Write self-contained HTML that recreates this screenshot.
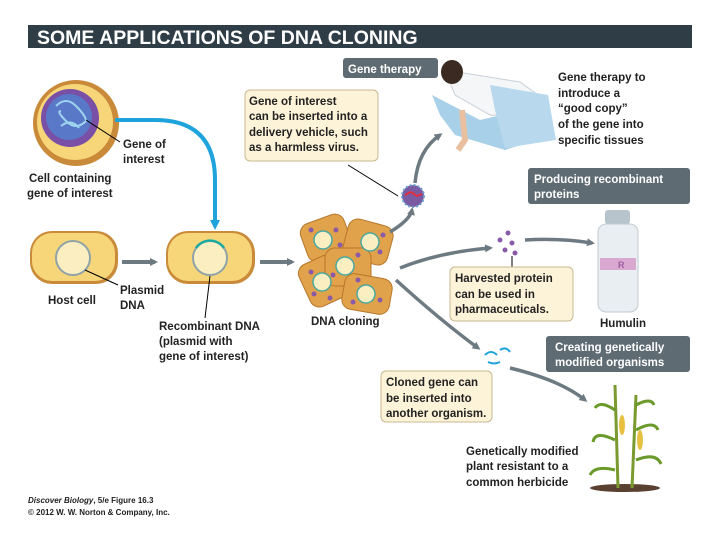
<!DOCTYPE html>
<html><head><meta charset="utf-8"><style>
body{margin:0;background:#fff;}
svg{display:block;font-family:"Liberation Sans",sans-serif;font-weight:bold;}
</style></head><body>
<svg width="720" height="540" viewBox="0 0 720 540">
<defs>
<marker id="ag" markerWidth="8" markerHeight="8" refX="5" refY="4" orient="auto" markerUnits="userSpaceOnUse"><path d="M0,0 L8,4 L0,8z" fill="#6e7a82"/></marker>
<marker id="ab" markerWidth="10" markerHeight="10" refX="5" refY="5" orient="auto" markerUnits="userSpaceOnUse"><path d="M0,0 L10,5 L0,10z" fill="#1ea3dc"/></marker>
</defs>
<rect x="28" y="25" width="664" height="23" fill="#2f3d47"/>
<text x="37" y="44" fill="#fff" font-size="19.5">SOME APPLICATIONS OF DNA CLONING</text>

<!-- top cell -->
<circle cx="76" cy="123" r="43" fill="#c98a3a"/>
<circle cx="75" cy="122" r="38" fill="#f7d679"/>
<circle cx="70" cy="118" r="29" fill="#7a4fa6"/>
<circle cx="69" cy="117" r="23" fill="#5a78c8"/>
<path d="M56,106 q10,-10 20,0 t10,15 q-10,10 -20,0 t-5,-10 M61,126 q10,-8 18,2" stroke="#9ed4f0" stroke-width="2" fill="none"/>
<line x1="86" y1="120" x2="120" y2="142" stroke="#000" stroke-width="1"/>
<text font-size="11.5" fill="#222"><tspan x="123" y="148">Gene of</tspan><tspan x="123" y="163">interest</tspan></text>
<text font-size="11.5" fill="#222"><tspan x="29" y="182">Cell containing</tspan><tspan x="27" y="197">gene of interest</tspan></text>
<path d="M115,120 L155,120 Q215,120 215,180 L215,225" stroke="#1ea3dc" stroke-width="4" fill="none" marker-end="url(#ab)"/>

<!-- host and recombinant cells -->
<rect x="30" y="231" width="88" height="53" rx="22" fill="#c98a3a"/>
<rect x="32" y="233" width="83" height="48" rx="20" fill="#f7d679"/>
<circle cx="73" cy="258" r="17" fill="#fbeec0" stroke="#8fa3a8" stroke-width="2"/>
<rect x="166" y="231" width="89" height="53" rx="22" fill="#c98a3a"/>
<rect x="168" y="233" width="84" height="48" rx="20" fill="#f7d679"/>
<circle cx="210" cy="258" r="17" fill="#fbeec0" stroke="#8fa3a8" stroke-width="2"/>
<path d="M196,248 A17,17 0 0 1 224,248" stroke="#1aa9a0" stroke-width="2.5" fill="none"/>
<line x1="122" y1="262" x2="155" y2="262" stroke="#6e7a82" stroke-width="4" marker-end="url(#ag)"/>
<line x1="260" y1="262" x2="292" y2="262" stroke="#6e7a82" stroke-width="4" marker-end="url(#ag)"/>
<line x1="85" y1="270" x2="118" y2="285" stroke="#000"/>
<text font-size="11.5" fill="#222"><tspan x="120" y="294">Plasmid</tspan><tspan x="120" y="309">DNA</tspan></text>
<text x="48" y="304" font-size="11.5" fill="#222">Host cell</text>
<line x1="210" y1="276" x2="205" y2="318" stroke="#000"/>
<text font-size="11.5" fill="#222"><tspan x="159" y="330">Recombinant DNA</tspan><tspan x="159" y="345">(plasmid with</tspan><tspan x="159" y="360">gene of interest)</tspan></text>

<!-- cluster -->
<g>
<rect x="303" y="218" width="46" height="40" rx="10" fill="#e0a24a" stroke="#b8762c" transform="rotate(-20 326 238)"/>
<rect x="345" y="222" width="46" height="40" rx="10" fill="#e0a24a" stroke="#b8762c" transform="rotate(15 368 242)"/>
<rect x="303" y="258" width="40" height="46" rx="10" fill="#e0a24a" stroke="#b8762c" transform="rotate(-25 323 281)"/>
<rect x="325" y="248" width="46" height="38" rx="10" fill="#e0a24a" stroke="#b8762c"/>
<rect x="343" y="276" width="48" height="36" rx="10" fill="#e0a24a" stroke="#b8762c" transform="rotate(10 367 294)"/>
<circle cx="323" cy="240" r="9" fill="#fbeec0" stroke="#4aa8a0" stroke-width="1.5"/>
<circle cx="370" cy="242" r="9" fill="#fbeec0" stroke="#4aa8a0" stroke-width="1.5"/>
<circle cx="345" cy="266" r="9" fill="#fbeec0" stroke="#4aa8a0" stroke-width="1.5"/>
<circle cx="322" cy="282" r="9" fill="#fbeec0" stroke="#4aa8a0" stroke-width="1.5"/>
<circle cx="366" cy="294" r="9" fill="#fbeec0" stroke="#4aa8a0" stroke-width="1.5"/>
<g fill="#8a5aa8"><circle cx="311" cy="230" r="2.5"/><circle cx="336" cy="230" r="2.5"/><circle cx="340" cy="245" r="2.5"/><circle cx="383" cy="235" r="2.5"/><circle cx="380" cy="252" r="2.5"/><circle cx="358" cy="255" r="2.5"/><circle cx="333" cy="275" r="2.5"/><circle cx="311" cy="272" r="2.5"/><circle cx="314" cy="294" r="2.5"/><circle cx="330" cy="298" r="2.5"/><circle cx="353" cy="302" r="2.5"/><circle cx="380" cy="300" r="2.5"/><circle cx="358" cy="280" r="2.5"/></g>
</g>
<text x="311" y="325" font-size="11.5" fill="#222">DNA cloning</text>

<!-- gene therapy -->
<rect x="343" y="58" width="95" height="20" rx="3" fill="#5f6b73"/>
<text x="348" y="73" font-size="11.5" fill="#fff">Gene therapy</text>
<rect x="245" y="90" width="133" height="71" rx="5" fill="#fdf3d8" stroke="#c8b890"/>
<text font-size="11.5" fill="#222"><tspan x="249" y="105">Gene of interest</tspan><tspan x="249" y="120">can be inserted into a</tspan><tspan x="249" y="136">delivery vehicle, such</tspan><tspan x="249" y="151">as a harmless virus.</tspan></text>
<line x1="348" y1="165" x2="398" y2="196" stroke="#000"/>
<circle cx="413" cy="196" r="11" fill="#7a5aa0" stroke="#6aa0d0" stroke-width="2" stroke-dasharray="2 2"/>
<path d="M405,195 l6,-3 l6,4 l5,-2" stroke="#e03040" stroke-width="2" fill="none"/>
<path d="M390,232 Q410,220 412,210" stroke="#6e7a82" stroke-width="3.5" fill="none" marker-end="url(#ag)"/>
<path d="M415,183 Q418,150 440,135" stroke="#6e7a82" stroke-width="3.5" fill="none" marker-end="url(#ag)"/>
<!-- patient -->
<path d="M432,95 L480,120 L545,105 L552,135 L505,150 L455,135 L440,115z" fill="#a8d0e8"/>
<path d="M445,70 L520,82 L545,100 L540,118 L490,115 L455,95z" fill="#f4f6f8" stroke="#c8d0d8"/>
<path d="M490,85 L548,95 L556,140 L505,148 L495,110z" fill="#b8d8ee"/>
<ellipse cx="452" cy="72" rx="11" ry="12" fill="#3a2a22"/>
<path d="M462,110 L465,140 L458,150" stroke="#e8c0a0" stroke-width="6" fill="none"/>
<text font-size="11.5" fill="#222"><tspan x="558" y="81">Gene therapy to</tspan><tspan x="558" y="97">introduce a</tspan><tspan x="558" y="112">“good copy”</tspan><tspan x="558" y="128">of the gene into</tspan><tspan x="558" y="144">specific tissues</tspan></text>

<!-- recombinant proteins -->
<rect x="528" y="168" width="162" height="36" rx="3" fill="#5f6b73"/>
<text font-size="11.5" fill="#fff"><tspan x="534" y="183">Producing recombinant</tspan><tspan x="534" y="198">proteins</tspan></text>
<path d="M400,268 Q440,252 490,248" stroke="#6e7a82" stroke-width="3.5" fill="none" marker-end="url(#ag)"/>
<g fill="#8a5aa8"><circle cx="500" cy="240" r="2.5"/><circle cx="508" cy="233" r="2.5"/><circle cx="512" cy="243" r="2.5"/><circle cx="505" cy="250" r="2.5"/><circle cx="515" cy="253" r="2.5"/></g>
<path d="M525,240 Q560,238 592,243" stroke="#6e7a82" stroke-width="3.5" fill="none" marker-end="url(#ag)"/>
<rect x="605" y="210" width="25" height="14" rx="3" fill="#b8c4cc"/>
<rect x="598" y="224" width="40" height="88" rx="8" fill="#e8eef2" stroke="#c0cad0"/>
<rect x="600" y="258" width="36" height="12" fill="#d8a8d0"/>
<text x="618" y="268" font-size="9" fill="#a060a0">R</text>
<line x1="512" y1="256" x2="512" y2="268" stroke="#000"/>
<rect x="450" y="267" width="123" height="54" rx="5" fill="#fdf3d8" stroke="#c8b890"/>
<text font-size="11.5" fill="#222"><tspan x="455" y="282">Harvested protein</tspan><tspan x="455" y="298">can be used in</tspan><tspan x="455" y="313">pharmaceuticals.</tspan></text>
<text x="600" y="327" font-size="11.5" fill="#222">Humulin</text>

<!-- GMO -->
<path d="M396,280 Q440,320 478,348" stroke="#6e7a82" stroke-width="3.5" fill="none" marker-end="url(#ag)"/>
<path d="M485,355 q6,-6 12,0 M500,350 q6,-4 10,2 M488,362 q6,3 12,0" stroke="#1ea3dc" stroke-width="2" fill="none"/>
<rect x="546" y="336" width="144" height="36" rx="3" fill="#5f6b73"/>
<text font-size="11.5" fill="#fff"><tspan x="555" y="351">Creating genetically</tspan><tspan x="555" y="366">modified organisms</tspan></text>
<rect x="381" y="371" width="111" height="51" rx="5" fill="#fdf3d8" stroke="#c8b890"/>
<text font-size="11.5" fill="#222"><tspan x="386" y="386">Cloned gene can</tspan><tspan x="386" y="402">be inserted into</tspan><tspan x="386" y="417">another organism.</tspan></text>
<path d="M510,368 Q560,380 585,400" stroke="#6e7a82" stroke-width="3.5" fill="none" marker-end="url(#ag)"/>
<!-- corn -->
<ellipse cx="625" cy="488" rx="35" ry="4" fill="#5a4030"/>
<line x1="618" y1="488" x2="615" y2="385" stroke="#7a9a30" stroke-width="3"/>
<line x1="632" y1="488" x2="636" y2="395" stroke="#7a9a30" stroke-width="3"/>
<path d="M615,470 q-20,-5 -25,5 M615,440 q-20,-10 -22,2 M615,410 q-15,-10 -20,-2 M636,460 q20,-8 25,4 M636,430 q18,-10 22,0 M636,405 q15,-8 18,0" stroke="#6a9a2a" stroke-width="3" fill="none"/>
<ellipse cx="622" cy="425" rx="3" ry="10" fill="#e8c040"/>
<ellipse cx="640" cy="440" rx="3" ry="10" fill="#e8c040"/>
<text font-size="11.5" fill="#222"><tspan x="466" y="455">Genetically modified</tspan><tspan x="466" y="470">plant resistant to a</tspan><tspan x="466" y="486">common herbicide</tspan></text>

<text x="28" y="503" font-size="8" fill="#222"><tspan font-style="italic">Discover Biology</tspan>, 5/e Figure 16.3</text>
<text x="28" y="515" font-size="8" fill="#222">© 2012 W. W. Norton &amp; Company, Inc.</text>
</svg>
</body></html>
